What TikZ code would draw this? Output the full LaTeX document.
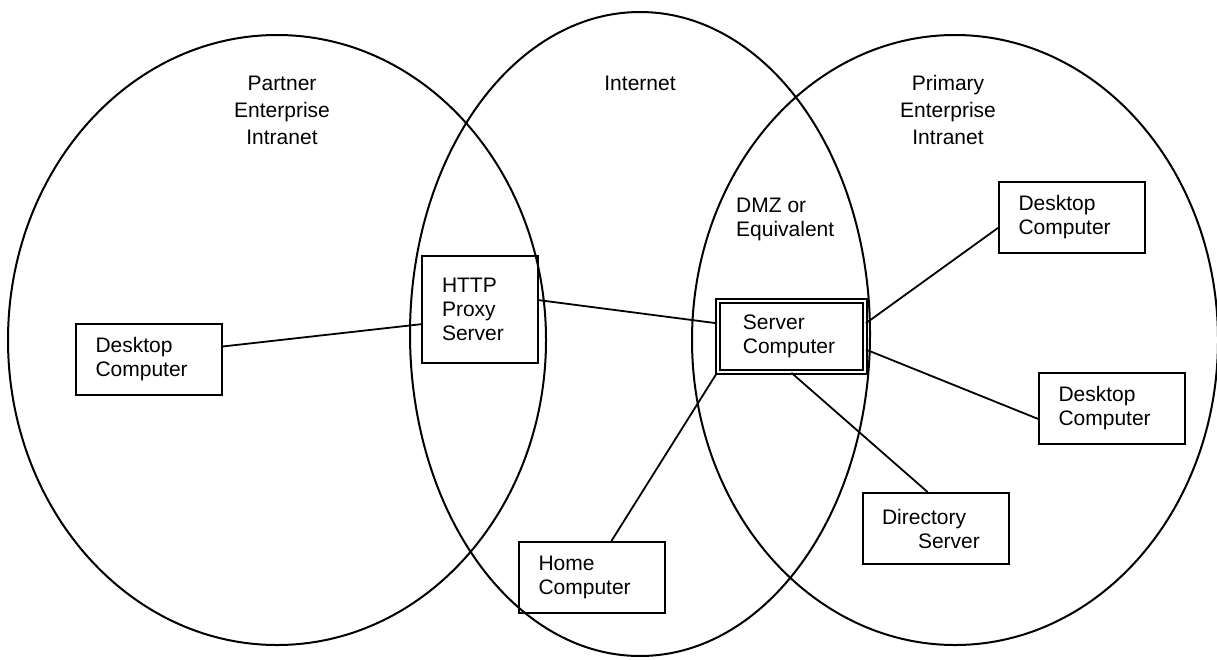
\documentclass[tikz,border=0pt]{standalone}
\usepackage{fontspec}
\setmainfont{Liberation Sans}
\usetikzlibrary{positioning}
\tikzstyle{netbox} = [draw, line width=2pt, anchor=north west, minimum width=146pt, minimum height=71pt, align=left, text width=107pt, inner xsep=19pt, inner ysep=0pt]
\tikzstyle{link} = [line width=1.8pt]

\begin{document}
\begin{tikzpicture}[x=1pt,y=-1pt,font=\fontsize{21}{24}\selectfont]
\useasboundingbox (0,0) rectangle (1217,659);

% the three networks
\draw[line width=2pt] (277,340) ellipse [x radius=269, y radius=305];
\draw[line width=2pt] (640,334) ellipse [x radius=230, y radius=322];
\draw[line width=2pt] (955,340) ellipse [x radius=263, y radius=305];

\node[align=center,font=\fontsize{21}{27}\selectfont] (partner) at (282,110) {Partner\\Enterprise\\Intranet};
\node (internet) at (640,83) {Internet};
\node[align=center,font=\fontsize{21}{27}\selectfont] (primary) at (948,110) {Primary\\Enterprise\\Intranet};
\node[anchor=north west,align=left,inner sep=0pt] (dmz) at (736,198) {DMZ or\\Equivalent};

% machines
\node[netbox] (leftpc) at (75,323) {Desktop\\Computer};
\node[netbox, minimum width=116pt, minimum height=107pt, text width=76pt, inner xsep=20pt] (proxy) at (421,255) {HTTP\\Proxy\\Server};
\node[netbox, double, double distance=2.5pt, line width=1.8pt, minimum width=147pt, text width=97pt, inner xsep=25pt] (server) at (717,300) {Server\\Computer};
\node[netbox] (trpc) at (998,181) {Desktop\\Computer};
\node[netbox] (mrpc) at (1038,372) {Desktop\\Computer};
\node[netbox, text width=108pt, inner xsep=18pt] (dir) at (862,492) {Directory\\\hspace*{36pt}Server};
\node[netbox] (home) at (518,541) {Home\\Computer};

% links
\draw[link] (leftpc.10) -- (proxy.194);
\draw[link] (proxy.9) -- (server.170);
\draw[link] (server.10) -- (trpc.188);
\draw[link] (server.-10) -- (mrpc.188);
\draw[link] (server.south) -- (dir.103);
\draw[link] (server.south west) -- (home.62);
\end{tikzpicture}
\end{document}
